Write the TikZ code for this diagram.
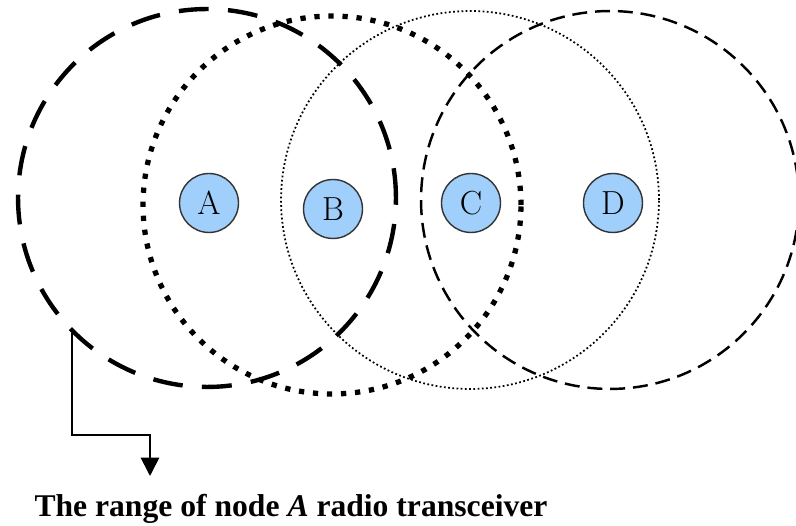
\documentclass[tikz,border=0pt]{standalone}
\usepackage{fontspec}
\usepackage{tikz}
\usetikzlibrary{arrows.meta, positioning}
\newfontfamily\captionfont{Liberation Serif}
\definecolor{stationblue}{HTML}{9FCFFA}

\begin{document}
\begin{tikzpicture}[x=0.02cm, y=-0.02cm,
  station/.style={circle, draw=black!80, fill=stationblue, line width=0.8pt,
    minimum size=1.18cm, inner sep=0pt, font=\fontsize{19}{19}\selectfont},
  txrange/.style={circle, minimum size=7.56cm, inner sep=0pt, draw=black}]
  \useasboundingbox (0,0) rectangle (796,526);

  % Dosahy vysilacu
  \node[txrange, line width=2.5pt, dash pattern=on 17pt off 11pt] (rangeA) at (207,198) {};
  \node[txrange, line width=3pt, dash pattern=on 3pt off 5pt] (rangeB) at (332,205) {};
  \node[txrange, line width=1pt, dash pattern=on 1pt off 1.4pt] (rangeC) at (470,200) {};
  \node[txrange, line width=1.4pt, dash pattern=on 8.5pt off 4.5pt] (rangeD) at (610,200) {};

  % Uzly
  \node[station] (A) at (209,203) {A};
  \node[station] (B) at (333,209) {B};
  \node[station] (C) at (471,203) {C};
  \node[station] (D) at (613,203) {D};

  % Popisek
  \node[font=\captionfont\bfseries\fontsize{18}{20}\selectfont, anchor=base] (caption) at (291,517)
    {The range of node \textit{A} radio transceiver};

  % Sipka
  \coordinate (bend) at (150,435);
  \coordinate (tip) at (150,476);
  \draw[-{Triangle[width=10.5pt, length=10.5pt]}, line width=1pt] (rangeA.225) |- (bend) -- (tip);
\end{tikzpicture}
\end{document}
